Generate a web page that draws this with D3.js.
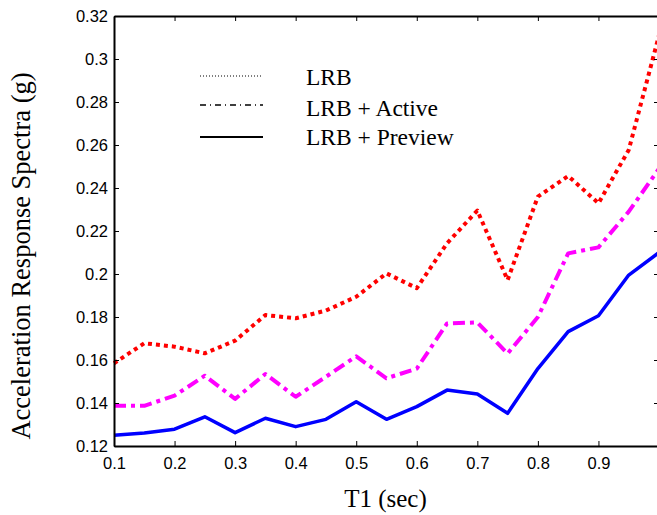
<!DOCTYPE html>
<html><head><meta charset="utf-8">
<script src="https://cdn.jsdelivr.net/npm/d3@7"></script>
<style>body{margin:0;background:#fff}svg{display:block}</style>
</head><body>
<svg id="c" width="657" height="515"></svg>
<script>
const periods = [0.1,0.15,0.2,0.25,0.3,0.35,0.4,0.45,0.5,0.55,0.6,0.65,0.7,0.75,0.8,0.85,0.9,0.95,1.0];
const lrb     = [0.1585,0.1678,0.1662,0.1631,0.169,0.1809,0.1794,0.183,0.1894,0.2003,0.1934,0.2143,0.2295,0.1972,0.236,0.2456,0.2329,0.2577,0.311];
const active  = [0.1387,0.1387,0.1434,0.1527,0.1419,0.1535,0.1429,0.1522,0.1617,0.1515,0.156,0.177,0.1775,0.163,0.180,0.2096,0.2124,0.229,0.249];
const preview = [0.125,0.126,0.1278,0.1336,0.1262,0.1329,0.129,0.1324,0.1406,0.1324,0.1383,0.146,0.1442,0.1352,0.156,0.1732,0.1806,0.1995,0.210];
const xTicks = [0.1,0.2,0.3,0.4,0.5,0.6,0.7,0.8,0.9];
const yTicks = [0.12,0.14,0.16,0.18,0.2,0.22,0.24,0.26,0.28,0.3,0.32];
const seriesNames = ["LRB","LRB + Active","LRB + Preview"];

const L=114, R=659, T=16, B=446;
const x = d3.scaleLinear().domain([0.1,1.0]).range([L,R]);
const y = d3.scaleLinear().domain([0.12,0.32]).range([B,T]);
const svg = d3.select("#c");

const series = [
  {name:seriesNames[0], vals:lrb, color:"#ff0000", w:4, dash:"4,4"},
  {name:seriesNames[1], vals:active, color:"#ff00ff", w:4, dash:"12,5,4,5"},
  {name:seriesNames[2], vals:preview, color:"#0000ff", w:3.5, dash:null}
];
const line = d3.line().x((d,i)=>x(periods[i])).y(d=>y(d));
series.forEach(s=>{
  svg.append("path").attr("d", line(s.vals)).attr("fill","none")
    .attr("stroke", s.color).attr("stroke-width", s.w)
    .attr("stroke-dasharray", s.dash).attr("stroke-linejoin","round");
});

// axes
const tickFont = "Liberation Sans, Arial, sans-serif";
const xb = svg.append("g").attr("transform",`translate(0,${B})`)
  .call(d3.axisBottom(x).tickValues(xTicks).tickSizeInner(-5).tickSizeOuter(0).tickPadding(11).tickFormat(d3.format("")));
const xt = svg.append("g").attr("transform",`translate(0,${T})`)
  .call(d3.axisTop(x).tickValues(xTicks).tickSizeInner(-5).tickSizeOuter(0).tickFormat(""));
const yl = svg.append("g").attr("transform",`translate(${L},0)`)
  .call(d3.axisLeft(y).tickValues(yTicks).tickSizeInner(-5).tickSizeOuter(0).tickPadding(6).tickFormat(d3.format("")));
const yr = svg.append("g").attr("transform",`translate(${R},0)`)
  .call(d3.axisRight(y).tickValues(yTicks).tickSizeInner(-5).tickSizeOuter(0).tickFormat(""));
[xb,xt,yl,yr].forEach(g=>{
  g.select(".domain").attr("stroke","#000").attr("stroke-width",2);
  g.selectAll(".tick line").attr("stroke","#000").attr("stroke-width",1);
  g.selectAll("text").attr("font-family",tickFont).attr("font-size",16.5).attr("fill","#000");
});

const serif = "Liberation Serif, Times New Roman, serif";
svg.append("text").attr("x",(L+R)/2-1).attr("y",507).attr("text-anchor","middle")
  .attr("font-family",serif).attr("font-size",25).text("T1 (sec)");
svg.append("text").attr("transform",`translate(30,256) rotate(-90)`).attr("text-anchor","middle")
  .attr("font-family",serif).attr("font-size",26.5).text("Acceleration Response Spectra (g)");

// legend
const legY = [76,105,137];
const legTextY = [85,116,145];
const legDash = ["1,2","6,4,1,4",null];
const legW = [1.2,1.5,2];
seriesNames.forEach((n,i)=>{
  svg.append("line").attr("x1",200).attr("x2",263).attr("y1",legY[i]).attr("y2",legY[i])
    .attr("stroke","#000").attr("stroke-width",legW[i]).attr("stroke-dasharray",legDash[i]);
  svg.append("text").attr("x",306).attr("y",legTextY[i]).attr("font-family",serif)
    .attr("font-size",23.5).text(n);
});
</script>
</body></html>
